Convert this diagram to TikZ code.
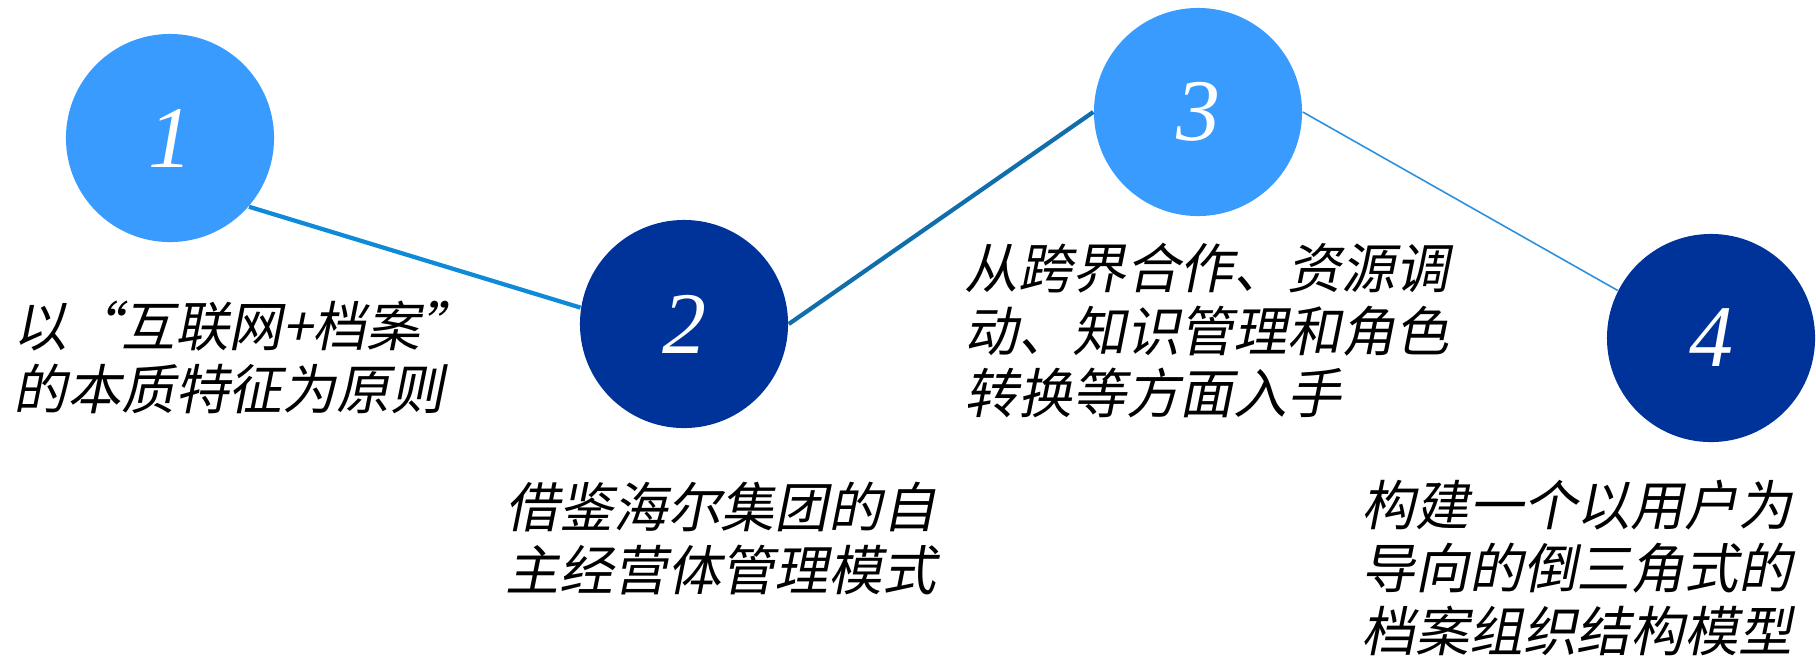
\documentclass[tikz,border=0pt]{standalone}
\usepackage{fontspec}
\newfontfamily\cjk{Noto Sans CJK SC}[FakeSlant=0.2]
\newfontfamily\numfont{Liberation Serif}
\definecolor{lightblue}{HTML}{3A9BFF}
\definecolor{navy}{HTML}{003399}
\definecolor{linkA}{HTML}{0E8AD8}
\definecolor{linkB}{HTML}{106EAC}
\definecolor{linkC}{HTML}{2A90E0}
\usetikzlibrary{positioning}

\begin{document}
\begin{tikzpicture}
            [x=0.01cm,y=-0.01cm,
             stage/.style={circle,minimum size=2.08cm,inner sep=0pt,text=white,
                           font=\numfont\itshape\fontsize{25}{27}\selectfont},
             note/.style={anchor=north west,inner sep=0pt,align=left,
                          font=\cjk\fontsize{15.3}{17.9}\selectfont}]

            \useasboundingbox (0,0) rectangle (1816,657);

            \node (c1) [stage,fill=lightblue] at (170,138) {1};
            \node (c2) [stage,fill=navy] at (684,324) {2};
            \node (c3) [stage,fill=lightblue] at (1198,112) {3};
            \node (c4) [stage,fill=navy] at (1711,338) {4};

            \node (n1) [note] at (13,300) {以“互联网+档案”\\的本质特征为原则};
            \node (n2) [note] at (505,481) {借鉴海尔集团的自\\主经营体管理模式};
            \node (n3) [note] at (964,242) {从跨界合作、资源调\\动、知识管理和角色\\转换等方面入手};
            \node (n4) [note] at (1361,479) {构建一个以用户为\\导向的倒三角式的\\档案组织结构模型};

            \path [draw=linkA,line width=1.2pt] (c1.-41) -- (c2.171);
            \path [draw=linkB,line width=1.2pt] (c2.east) -- (c3.west);
            \path [draw=linkC,line width=0.45pt] (c3.east) -- (c4.153);
        \end{tikzpicture}
\end{document}
